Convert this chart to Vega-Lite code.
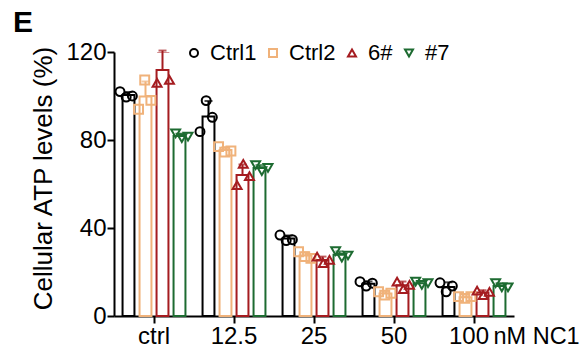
{
  "$schema": "https://vega.github.io/schema/vega-lite/v6.json",
  "width": 400,
  "height": 264,
  "autosize": "none",
  "padding": {"left": 114, "top": 52, "right": 71, "bottom": 35},
  "background": "white",
  "title": {"text": "E", "anchor": "start", "frame": "group", "font": "Liberation Sans", "fontSize": 30, "fontWeight": "bold", "color": "black", "dx": -101, "dy": 34, "baseline": "alphabetic", "offset": 12},
  "config": {
    "view": {"stroke": null},
    "font": "Liberation Sans",
    "axis": {"domainColor": "black", "tickColor": "black", "labelColor": "black", "titleColor": "black", "grid": false, "labelFont": "Liberation Sans", "titleFont": "Liberation Sans", "domainWidth": 2, "tickWidth": 2, "zindex": 1}
  },
  "data": {
    "values": [
      {"group": "ctrl", "series": "Ctrl1", "id": "Ctrl1-1", "value": 102},
      {"group": "ctrl", "series": "Ctrl1", "id": "Ctrl1-2", "value": 99.5},
      {"group": "ctrl", "series": "Ctrl1", "id": "Ctrl1-3", "value": 100},
      {"group": "ctrl", "series": "Ctrl2", "id": "Ctrl2-1", "value": 94},
      {"group": "ctrl", "series": "Ctrl2", "id": "Ctrl2-2", "value": 107.3},
      {"group": "ctrl", "series": "Ctrl2", "id": "Ctrl2-3", "value": 98},
      {"group": "ctrl", "series": "6#", "id": "6#-1", "value": 106},
      {"group": "ctrl", "series": "6#", "id": "6#-2", "value": 122},
      {"group": "ctrl", "series": "6#", "id": "6#-3", "value": 107.3},
      {"group": "ctrl", "series": "#7", "id": "#7-1", "value": 83},
      {"group": "ctrl", "series": "#7", "id": "#7-2", "value": 80.8},
      {"group": "ctrl", "series": "#7", "id": "#7-3", "value": 81.5},
      {"group": "12.5", "series": "Ctrl1", "id": "Ctrl1-1", "value": 83.8},
      {"group": "12.5", "series": "Ctrl1", "id": "Ctrl1-2", "value": 97.9},
      {"group": "12.5", "series": "Ctrl1", "id": "Ctrl1-3", "value": 90.3},
      {"group": "12.5", "series": "Ctrl2", "id": "Ctrl2-1", "value": 77},
      {"group": "12.5", "series": "Ctrl2", "id": "Ctrl2-2", "value": 74.5},
      {"group": "12.5", "series": "Ctrl2", "id": "Ctrl2-3", "value": 75},
      {"group": "12.5", "series": "6#", "id": "6#-1", "value": 59.5},
      {"group": "12.5", "series": "6#", "id": "6#-2", "value": 69.1},
      {"group": "12.5", "series": "6#", "id": "6#-3", "value": 63.6},
      {"group": "12.5", "series": "#7", "id": "#7-1", "value": 68.6},
      {"group": "12.5", "series": "#7", "id": "#7-2", "value": 65.9},
      {"group": "12.5", "series": "#7", "id": "#7-3", "value": 67.3},
      {"group": "25", "series": "Ctrl1", "id": "Ctrl1-1", "value": 36.8},
      {"group": "25", "series": "Ctrl1", "id": "Ctrl1-2", "value": 34.3},
      {"group": "25", "series": "Ctrl1", "id": "Ctrl1-3", "value": 34.7},
      {"group": "25", "series": "Ctrl2", "id": "Ctrl2-1", "value": 29.2},
      {"group": "25", "series": "Ctrl2", "id": "Ctrl2-2", "value": 27},
      {"group": "25", "series": "Ctrl2", "id": "Ctrl2-3", "value": 26.2},
      {"group": "25", "series": "6#", "id": "6#-1", "value": 27},
      {"group": "25", "series": "6#", "id": "6#-2", "value": 24},
      {"group": "25", "series": "6#", "id": "6#-3", "value": 25.5},
      {"group": "25", "series": "#7", "id": "#7-1", "value": 29.5},
      {"group": "25", "series": "#7", "id": "#7-2", "value": 26.5},
      {"group": "25", "series": "#7", "id": "#7-3", "value": 27.5},
      {"group": "50", "series": "Ctrl1", "id": "Ctrl1-1", "value": 15.6},
      {"group": "50", "series": "Ctrl1", "id": "Ctrl1-2", "value": 13.6},
      {"group": "50", "series": "Ctrl1", "id": "Ctrl1-3", "value": 14.9},
      {"group": "50", "series": "Ctrl2", "id": "Ctrl2-1", "value": 11},
      {"group": "50", "series": "Ctrl2", "id": "Ctrl2-2", "value": 9.5},
      {"group": "50", "series": "Ctrl2", "id": "Ctrl2-3", "value": 10.3},
      {"group": "50", "series": "6#", "id": "6#-1", "value": 15.6},
      {"group": "50", "series": "6#", "id": "6#-2", "value": 12.2},
      {"group": "50", "series": "6#", "id": "6#-3", "value": 14.1},
      {"group": "50", "series": "#7", "id": "#7-1", "value": 15.6},
      {"group": "50", "series": "#7", "id": "#7-2", "value": 14.1},
      {"group": "50", "series": "#7", "id": "#7-3", "value": 14.9},
      {"group": "100", "series": "Ctrl1", "id": "Ctrl1-1", "value": 15.1},
      {"group": "100", "series": "Ctrl1", "id": "Ctrl1-2", "value": 11},
      {"group": "100", "series": "Ctrl1", "id": "Ctrl1-3", "value": 13.6},
      {"group": "100", "series": "Ctrl2", "id": "Ctrl2-1", "value": 8.8},
      {"group": "100", "series": "Ctrl2", "id": "Ctrl2-2", "value": 8},
      {"group": "100", "series": "Ctrl2", "id": "Ctrl2-3", "value": 8.8},
      {"group": "100", "series": "6#", "id": "6#-1", "value": 11.5},
      {"group": "100", "series": "6#", "id": "6#-2", "value": 9.5},
      {"group": "100", "series": "6#", "id": "6#-3", "value": 11},
      {"group": "100", "series": "#7", "id": "#7-1", "value": 14.9},
      {"group": "100", "series": "#7", "id": "#7-2", "value": 13},
      {"group": "100", "series": "#7", "id": "#7-3", "value": 13}
    ]
  },
  "layer": [
    {
      "mark": {"type": "errorbar", "extent": "stdev", "thickness": 2, "ticks": {"size": 8}},
      "encoding": {
        "x": {"field": "group", "type": "nominal", "title": "nM NC1", "sort": ["ctrl", "12.5", "25", "50", "100"], "scale": {"paddingInner": 0.15, "paddingOuter": 0.075}},
        "xOffset": {"field": "series", "type": "nominal", "sort": ["Ctrl1", "Ctrl2", "6#", "#7"], "scale": {"paddingInner": 0.3, "paddingOuter": 0.15}},
        "y": {"field": "value", "type": "quantitative", "title": "Cellular ATP levels (%)", "scale": {"domain": [0, 120], "nice": false}},
        "color": {"field": "series", "type": "nominal", "title": null, "scale": {"domain": ["Ctrl1", "Ctrl2", "6#", "#7"], "range": ["#000000", "#F0B27A", "#A51C20", "#1D6B31"]},
          "legend": {"orient": "none", "legendX": 69, "legendY": -10, "direction": "horizontal", "labelFontSize": 22, "labelColor": "black", "labelFont": "Liberation Sans", "symbolSize": 64, "symbolStrokeWidth": 2, "labelOffset": 5, "columnPadding": 5, "padding": 0, "symbolFillColor": "transparent",
            "encode": {"symbols": {"update": {"fill": {"value": "transparent"}, "fillOpacity": {"value": 0}, "stroke": {"scale": "color", "field": "value"}, "strokeWidth": {"value": 2}, "opacity": {"value": 1}}}}}}
      }
    },
    {
      "mark": {"type": "bar", "fill": "white", "strokeWidth": 0},
      "encoding": {
        "x": {"field": "group", "type": "nominal", "title": "nM NC1", "sort": ["ctrl", "12.5", "25", "50", "100"], "scale": {"paddingInner": 0.15, "paddingOuter": 0.075}},
        "xOffset": {"field": "series", "type": "nominal", "sort": ["Ctrl1", "Ctrl2", "6#", "#7"], "scale": {"paddingInner": 0.3, "paddingOuter": 0.15}},
        "y": {"aggregate": "mean", "field": "value", "type": "quantitative", "title": "Cellular ATP levels (%)", "scale": {"domain": [0, 120], "nice": false}}
      }
    },
    {
      "mark": {"type": "bar", "filled": false, "strokeWidth": 2},
      "encoding": {
        "x": {"field": "group", "type": "nominal", "title": "nM NC1", "sort": ["ctrl", "12.5", "25", "50", "100"], "scale": {"paddingInner": 0.15, "paddingOuter": 0.075},
          "axis": {"labelAngle": 0, "labelAlign": "center", "labelBaseline": "top", "labelFontSize": 24, "labelPadding": 1, "tickSize": 7, "labelOffset": {"condition": {"test": "datum.label === '100'", "value": -5}, "value": 0}, "titleFontSize": 23.5, "titleFontWeight": "normal", "titleX": 379, "titleY": 27, "titleAlign": "left", "titleBaseline": "alphabetic"}},
        "xOffset": {"field": "series", "type": "nominal", "sort": ["Ctrl1", "Ctrl2", "6#", "#7"], "scale": {"paddingInner": 0.3, "paddingOuter": 0.15}},
        "y": {"aggregate": "mean", "field": "value", "type": "quantitative", "title": "Cellular ATP levels (%)", "scale": {"domain": [0, 120], "nice": false},
          "axis": {"values": [0, 40, 80, 120], "titleFontSize": 26, "titleFontWeight": "normal", "titlePadding": 9, "titleY": 126, "labelFontSize": 24, "labelPadding": 1, "tickSize": 7}},
        "color": {"field": "series", "type": "nominal", "title": null, "scale": {"domain": ["Ctrl1", "Ctrl2", "6#", "#7"], "range": ["#000000", "#F0B27A", "#A51C20", "#1D6B31"]},
          "legend": {"orient": "none", "legendX": 69, "legendY": -10, "direction": "horizontal", "labelFontSize": 22, "labelColor": "black", "labelFont": "Liberation Sans", "symbolSize": 64, "symbolStrokeWidth": 2, "labelOffset": 5, "columnPadding": 5, "padding": 0, "symbolFillColor": "transparent",
            "encode": {"symbols": {"update": {"fill": {"value": "transparent"}, "fillOpacity": {"value": 0}, "stroke": {"scale": "color", "field": "value"}, "strokeWidth": {"value": 2}, "opacity": {"value": 1}}}}}}
      }
    },
    {
      "mark": {"type": "point", "filled": false, "strokeWidth": 2, "size": 80, "opacity": 1, "clip": true},
      "encoding": {
        "x": {"field": "group", "type": "nominal", "title": "nM NC1", "sort": ["ctrl", "12.5", "25", "50", "100"], "scale": {"paddingInner": 0.15, "paddingOuter": 0.075}},
        "xOffset": {"field": "id", "type": "nominal", "scale": {"domain": ["Ctrl1-1", "Ctrl1-2", "Ctrl1-3", "Ctrl2-1", "Ctrl2-2", "Ctrl2-3", "6#-1", "6#-2", "6#-3", "#7-1", "#7-2", "#7-3"], "paddingInner": 0, "paddingOuter": 0}},
        "y": {"field": "value", "type": "quantitative", "title": "Cellular ATP levels (%)", "scale": {"domain": [0, 120], "nice": false}},
        "color": {"field": "series", "type": "nominal", "title": null, "scale": {"domain": ["Ctrl1", "Ctrl2", "6#", "#7"], "range": ["#000000", "#F0B27A", "#A51C20", "#1D6B31"]},
          "legend": {"orient": "none", "legendX": 69, "legendY": -10, "direction": "horizontal", "labelFontSize": 22, "labelColor": "black", "labelFont": "Liberation Sans", "symbolSize": 64, "symbolStrokeWidth": 2, "labelOffset": 5, "columnPadding": 5, "padding": 0, "symbolFillColor": "transparent",
            "encode": {"symbols": {"update": {"fill": {"value": "transparent"}, "fillOpacity": {"value": 0}, "stroke": {"scale": "color", "field": "value"}, "strokeWidth": {"value": 2}, "opacity": {"value": 1}}}}}},
        "shape": {"field": "series", "type": "nominal", "title": null, "scale": {"domain": ["Ctrl1", "Ctrl2", "6#", "#7"], "range": ["circle", "square", "triangle-up", "triangle-down"]},
          "legend": {"orient": "none", "legendX": 69, "legendY": -10, "direction": "horizontal", "labelFontSize": 22, "labelColor": "black", "labelFont": "Liberation Sans", "symbolSize": 64, "symbolStrokeWidth": 2, "labelOffset": 5, "columnPadding": 5, "padding": 0, "symbolFillColor": "transparent",
            "encode": {"symbols": {"update": {"fill": {"value": "transparent"}, "fillOpacity": {"value": 0}, "stroke": {"scale": "color", "field": "value"}, "strokeWidth": {"value": 2}, "opacity": {"value": 1}}}}}}
      }
    }
  ],
  "resolve": {"scale": {"xOffset": "independent"}}
}
